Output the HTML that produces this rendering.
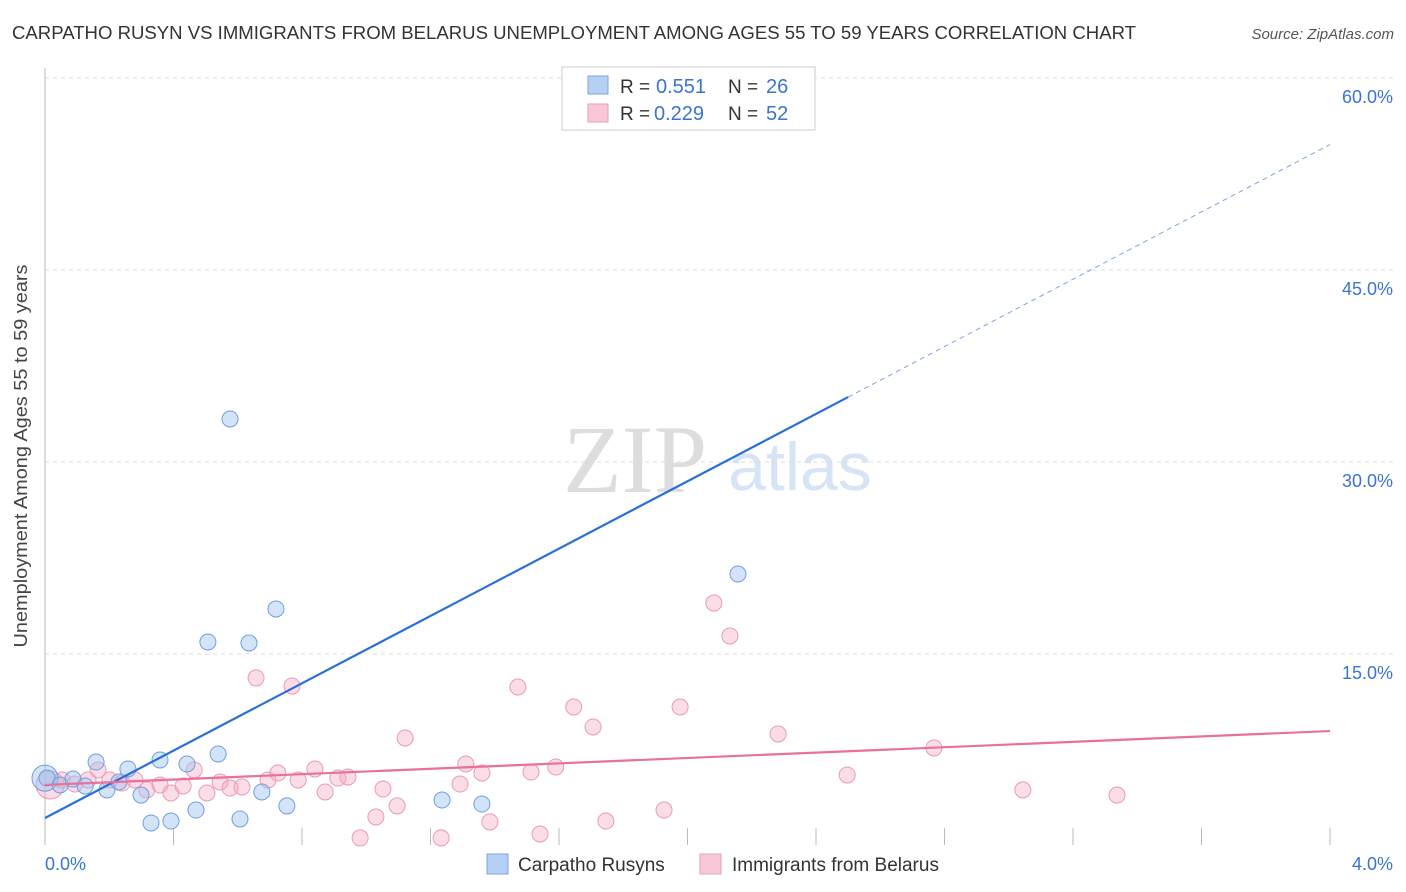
<!DOCTYPE html>
<html><head><meta charset="utf-8"><style>
body{margin:0;background:#fff;font-family:"Liberation Sans",sans-serif;}
#wrap{position:relative;width:1406px;height:892px;overflow:hidden;}
</style></head><body>
<div id="wrap">
<svg id="c" width="1406" height="892" xmlns="http://www.w3.org/2000/svg">
<text x="12" y="39" font-size="18" fill="#333" textLength="1124" lengthAdjust="spacingAndGlyphs">CARPATHO RUSYN VS IMMIGRANTS FROM BELARUS UNEMPLOYMENT AMONG AGES 55 TO 59 YEARS CORRELATION CHART</text>
<text x="1394" y="39" font-size="15" fill="#555" font-style="italic" text-anchor="end">Source: ZipAtlas.com</text>
<text x="27" y="456" font-size="18" fill="#444" text-anchor="middle" textLength="383" lengthAdjust="spacingAndGlyphs" transform="rotate(-90 27 456)">Unemployment Among Ages 55 to 59 years</text>
<text x="635" y="492" font-size="96" fill="#ddd" font-family="Liberation Serif,serif" text-anchor="middle">ZIP</text>
<text x="800" y="490" font-size="68" fill="#d6e4f5" text-anchor="middle">atlas</text>
<g id="grid"></g><g id="marks"></g>
<g>
<rect x="562" y="67" width="253" height="63" fill="#fff" stroke="#ccc"/>
<rect x="588" y="76" width="20" height="18" fill="#b5d0f3" stroke="#7aa6e0"/>
<rect x="588" y="104" width="20" height="18" fill="#f8c8d6" stroke="#eaa0b8"/>
<text x="620" y="93" font-size="19" fill="#333">R =</text>
<text x="656" y="93" font-size="20" fill="#3a74d0">0.551</text>
<text x="728" y="93" font-size="19" fill="#333">N =</text>
<text x="766" y="93" font-size="20" fill="#3a74d0">26</text>
<text x="620" y="120" font-size="19" fill="#333">R =</text>
<text x="654" y="120" font-size="20" fill="#3a74d0">0.229</text>
<text x="728" y="120" font-size="19" fill="#333">N =</text>
<text x="766" y="120" font-size="20" fill="#3a74d0">52</text>
</g>
<g>
<rect x="487" y="854" width="21" height="20" fill="#b5d0f3" stroke="#7aa6e0"/>
<text x="518" y="871" font-size="19" fill="#333">Carpatho Rusyns</text>
<rect x="700" y="854" width="21" height="20" fill="#f8c8d6" stroke="#eaa0b8"/>
<text x="732" y="871" font-size="19" fill="#333">Immigrants from Belarus</text>
</g>
</svg>
</div>
<script>
const yTicks=[15,30,45,60];
const xTickLabels=["0.0%","4.0%"];
const blueX=[0.0,0.006,0.047,0.087,0.125,0.159,0.193,0.230,0.258,0.299,0.330,0.358,0.392,0.442,0.470,0.507,0.539,0.576,0.607,0.635,0.675,0.719,0.753,1.236,1.360,2.157];
const blueY=[5.3,5.31,4.77,5.23,4.69,6.56,4.38,5.0,6.02,3.98,1.80,6.72,1.95,6.41,2.81,15.94,7.19,33.36,2.11,15.86,4.22,18.52,3.13,3.59,3.28,21.25];
const pinkX=[0.016,0.053,0.093,0.134,0.165,0.202,0.240,0.280,0.317,0.358,0.392,0.430,0.464,0.504,0.545,0.576,0.613,0.657,0.694,0.725,0.769,0.788,0.840,0.872,0.912,0.943,0.981,1.030,1.052,1.096,1.121,1.233,1.292,1.310,1.360,1.385,1.472,1.513,1.541,1.590,1.646,1.706,1.746,1.927,1.977,2.082,2.132,2.282,2.497,2.767,3.044,3.337];
const pinkY=[4.77,5.16,4.84,5.16,5.94,5.16,4.92,5.16,4.38,4.77,4.14,4.69,5.94,4.14,5.0,4.53,4.61,13.13,5.16,5.70,12.5,5.16,6.02,4.22,5.31,5.39,0.63,2.27,4.45,3.13,8.44,0.63,4.84,6.41,5.70,1.88,12.42,5.78,0.94,6.17,10.86,9.30,1.95,2.81,10.86,18.98,16.41,8.75,5.55,7.66,4.38,3.98];
const blueLine=[2.19,54.8];
const pinkLine=[4.77,8.98];
const NS="http://www.w3.org/2000/svg";
const X=v=>45+v/4*1285, Y=v=>846-v*12.8;
function mk(t,a,p){const e=document.createElementNS(NS,t);for(const k in a)e.setAttribute(k,a[k]);p.appendChild(e);return e;}
const g=document.getElementById('grid'),m=document.getElementById('marks');
yTicks.forEach(t=>{
 const l=mk('line',{x1:45,x2:1395,y1:Y(t),y2:Y(t),stroke:'#ddd','stroke-dasharray':'4,4'},g);
 
 
 const tx=mk('text',{x:1393,y:Y(t)+25,'font-size':18,fill:'#3a74d0','text-anchor':'end'},g);
 tx.textContent=t.toFixed(1)+'%';
 
 
});
mk('line',{x1:45,x2:45,y1:68,y2:845,stroke:'#bbb'},g);
for(let i=0;i<=10;i++){const l=mk('line',{x1:X(i*0.4),x2:X(i*0.4),y1:828,y2:845,stroke:'#bbb'},g);
 
 }
xTickLabels.forEach((s,i)=>{const t=mk('text',{x:i?1393:45,y:870,'font-size':18,fill:'#3a74d0','text-anchor':i?'end':'start'},g);t.textContent=s;
 
 });
pinkX.forEach((x,i)=>{const c=mk('circle',{cx:X(x),cy:Y(pinkY[i]),r:i==0?14:8,fill:'rgba(244,170,195,0.4)',stroke:'#eb9ab4','stroke-width':1},m);
 
 });
blueX.forEach((x,i)=>{const c=mk('circle',{cx:X(x),cy:Y(blueY[i]),r:i==0?13:8,fill:'rgba(160,195,240,0.45)',stroke:'#6f9fe0','stroke-width':1},m);
 
 });
const by=x=>blueLine[0]+(blueLine[1]-blueLine[0])*x/4;
const bl=mk('line',{x1:X(0),y1:Y(by(0)),x2:X(2.5),y2:Y(by(2.5)),stroke:'#2a6fd6','stroke-width':2.2},m);


const bd=mk('line',{x1:X(2.5),y1:Y(by(2.5)),x2:X(4),y2:Y(by(4)),stroke:'#7aa6e0','stroke-width':1,'stroke-dasharray':'5,4'},m);


const pl=mk('line',{x1:X(0),y1:Y(pinkLine[0]),x2:X(4),y2:Y(pinkLine[1]),stroke:'#e8709a','stroke-width':2.2},m);


</script>
</body></html>
